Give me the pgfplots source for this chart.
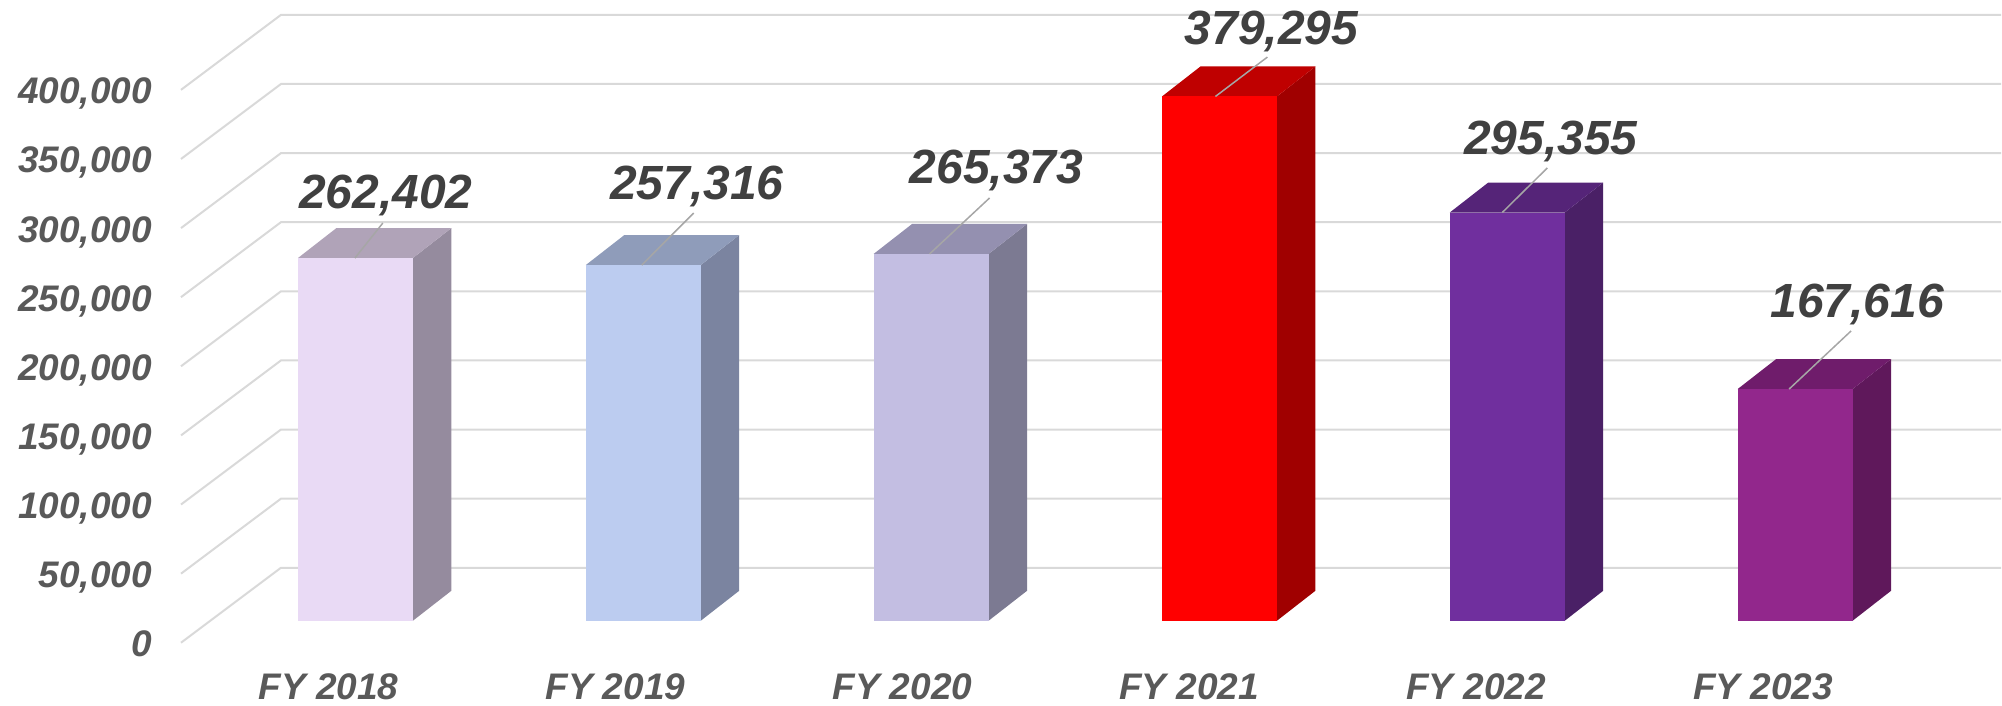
\documentclass[border=0pt]{standalone}
\usepackage{fontspec}
\setmainfont{Liberation Sans}
\usepackage{pgfplots}
\pgfplotsset{compat=1.18}
\definecolor{gridc}{HTML}{D9D9D9}
\definecolor{leadc}{HTML}{A6A6A6}
\definecolor{ticktxt}{HTML}{595959}
\definecolor{valtxt}{HTML}{404040}
\definecolor{af}{HTML}{E9DAF5}\definecolor{as}{HTML}{958B9E}\definecolor{at}{HTML}{B0A3B8}
\definecolor{bf}{HTML}{BCCCF0}\definecolor{bs}{HTML}{7B84A0}\definecolor{bt}{HTML}{8F9CBA}
\definecolor{cf}{HTML}{C3BEE2}\definecolor{cs}{HTML}{7C7A92}\definecolor{ct}{HTML}{9490B0}
\definecolor{df}{HTML}{FF0000}\definecolor{ds}{HTML}{A00000}\definecolor{dt}{HTML}{BF0000}
\definecolor{ef}{HTML}{702F9E}\definecolor{es}{HTML}{4A2066}\definecolor{et}{HTML}{552478}
\definecolor{ff}{HTML}{92278C}\definecolor{fs}{HTML}{5F185B}\definecolor{ft}{HTML}{6F1C6B}
\begin{document}
\begin{tikzpicture}
\begin{axis}[
  scale only axis, width=2002pt, height=706pt,
  xmin=0, xmax=2002, ymin=-61460, ymax=449024,
  axis line style={draw=none},
  major tick length=0pt,
  xtick={328.5,615.6,902.7,1189.8,1476.9,1764},
  xticklabels={FY 2018,FY 2019,FY 2020,FY 2021,FY 2022,FY 2023},
  ytick={0,50000,100000,150000,200000,250000,300000,350000,400000},
  scaled y ticks=false,
  /pgf/number format/.cd, fixed, precision=0, 1000 sep={,}, assume math mode=true,
  /pgfplots/.cd,
  tick label style={font=\fontsize{37}{40}\selectfont\bfseries\itshape, text=ticktxt, inner sep=0pt},
  xticklabel style={anchor=base, yshift=6pt},
  yticklabel style={anchor=base east, xshift=152pt, yshift=-36pt},
  clip=false,
  every axis plot/.append style={forget plot},
]
% wall and floor gridlines
\addplot[gridc, line width=2pt] coordinates {(181,-15907) (281,38323) (2002,38323)};
\addplot[gridc, line width=2pt] coordinates {(181,34093) (281,88323) (2002,88323)};
\addplot[gridc, line width=2pt] coordinates {(181,84093) (281,138323) (2002,138323)};
\addplot[gridc, line width=2pt] coordinates {(181,134093) (281,188323) (2002,188323)};
\addplot[gridc, line width=2pt] coordinates {(181,184093) (281,238323) (2002,238323)};
\addplot[gridc, line width=2pt] coordinates {(181,234093) (281,288323) (2002,288323)};
\addplot[gridc, line width=2pt] coordinates {(181,284093) (281,338323) (2002,338323)};
\addplot[gridc, line width=2pt] coordinates {(181,334093) (281,388323) (2002,388323)};
\addplot[gridc, line width=2pt] coordinates {(181,384093) (281,438323) (2002,438323)};
% top and side faces
\addplot[draw=none, fill=as] coordinates {(413,0) (451.5,21692) (451.5,284094) (413,262402)} --cycle;
\addplot[draw=none, fill=at] coordinates {(298,262402) (413,262402) (451.5,284094) (336.5,284094)} --cycle;
\addplot[draw=none, fill=bs] coordinates {(701,0) (739.5,21692) (739.5,279008) (701,257316)} --cycle;
\addplot[draw=none, fill=bt] coordinates {(586,257316) (701,257316) (739.5,279008) (624.5,279008)} --cycle;
\addplot[draw=none, fill=cs] coordinates {(989,0) (1027.5,21692) (1027.5,287065) (989,265373)} --cycle;
\addplot[draw=none, fill=ct] coordinates {(874,265373) (989,265373) (1027.5,287065) (912.5,287065)} --cycle;
\addplot[draw=none, fill=ds] coordinates {(1277.5,0) (1316,21692) (1316,400987) (1277.5,379295)} --cycle;
\addplot[draw=none, fill=dt] coordinates {(1162.5,379295) (1277.5,379295) (1316,400987) (1201,400987)} --cycle;
\addplot[draw=none, fill=es] coordinates {(1565.5,0) (1604,21692) (1604,317047) (1565.5,295355)} --cycle;
\addplot[draw=none, fill=et] coordinates {(1450.5,295355) (1565.5,295355) (1604,317047) (1489,317047)} --cycle;
\addplot[draw=none, fill=fs] coordinates {(1853.5,0) (1892,21692) (1892,189308) (1853.5,167616)} --cycle;
\addplot[draw=none, fill=ft] coordinates {(1738.5,167616) (1853.5,167616) (1892,189308) (1777,189308)} --cycle;
% front faces
\addplot[ybar, bar width=115pt, bar shift=0pt, draw=none, fill=af] coordinates {(355.5,262402)};
\addplot[ybar, bar width=115pt, bar shift=0pt, draw=none, fill=bf] coordinates {(643.5,257316)};
\addplot[ybar, bar width=115pt, bar shift=0pt, draw=none, fill=cf] coordinates {(931.5,265373)};
\addplot[ybar, bar width=115pt, bar shift=0pt, draw=none, fill=df] coordinates {(1220,379295)};
\addplot[ybar, bar width=115pt, bar shift=0pt, draw=none, fill=ef] coordinates {(1508,295355)};
\addplot[ybar, bar width=115pt, bar shift=0pt, draw=none, fill=ff] coordinates {(1796,167616)};
% leader lines
\addplot[leadc, line width=1.5pt] coordinates {(355,262402) (383,287780)};
\addplot[leadc, line width=1.5pt] coordinates {(642,257316) (694,295011)};
\addplot[leadc, line width=1.5pt] coordinates {(930,265373) (990,305857)};
\addplot[leadc, line width=1.5pt] coordinates {(1216,379295) (1268,407809)};
\addplot[leadc, line width=1.5pt] coordinates {(1503,295355) (1548,327549)};
\addplot[leadc, line width=1.5pt] coordinates {(1790,167616) (1852,209689)};
% data labels
\tikzset{val/.style={anchor=base, inner sep=0pt, text=valtxt, font=\fontsize{48}{52}\selectfont\bfseries\itshape}}
\node[val] at (axis cs:386,297903) {262,402};
\node[val] at (axis cs:697,304410) {257,316};
\node[val] at (axis cs:997,315980) {265,373};
\node[val] at (axis cs:1272,417209) {379,295};
\node[val] at (axis cs:1551.5,337310) {295,355};
\node[val] at (axis cs:1858,219089) {167,616};
\end{axis}
\end{tikzpicture}
\end{document}
